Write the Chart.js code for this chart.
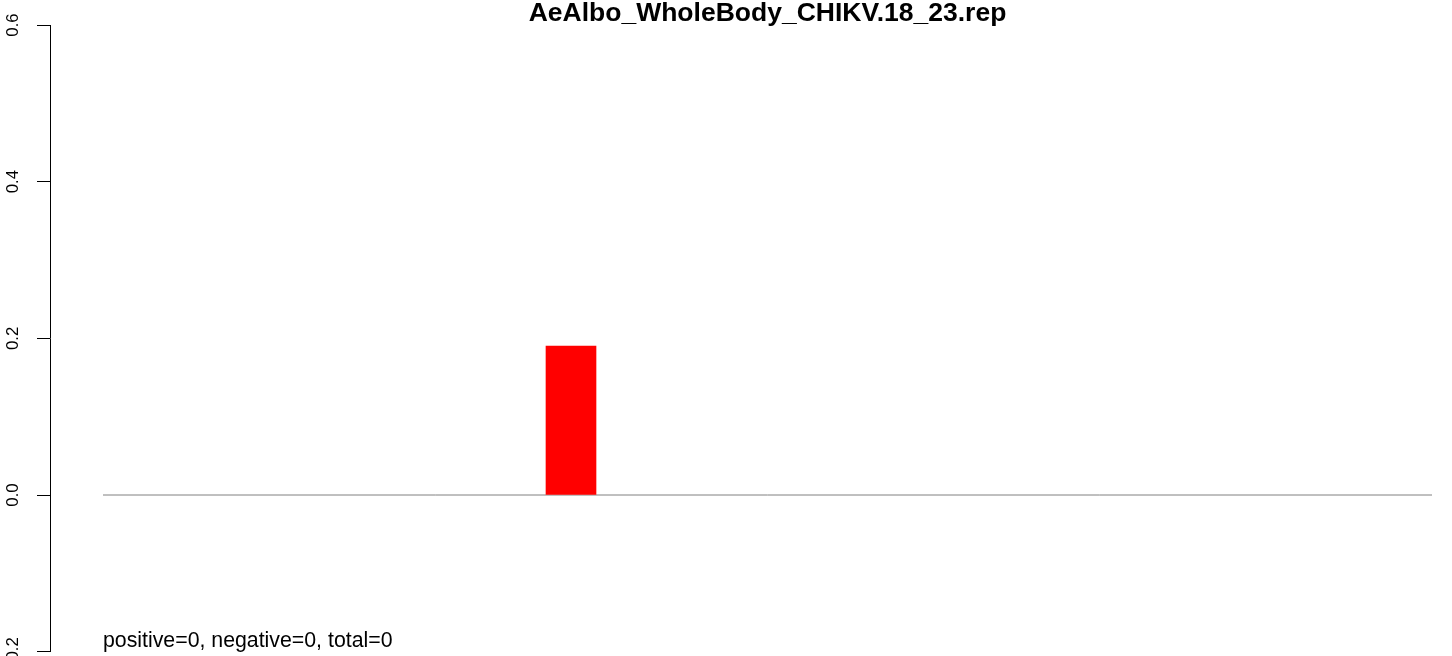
<!DOCTYPE html>
<html>
<head>
<meta charset="utf-8">
<script src="https://cdn.jsdelivr.net/npm/chart.js@4.4.1/dist/chart.umd.min.js"></script>
<style>
  html, body { margin: 0; padding: 0; background: #ffffff; overflow: hidden; }
  #wrap { width: 1452px; height: 656px; }
</style>
</head>
<body>
<div id="wrap"><canvas id="c" width="1452" height="656"></canvas></div>
<script>
// ---- data ----
const chartTitle = "AeAlbo_WholeBody_CHIKV.18_23.rep";
const noteText = "positive=0, negative=0, total=0";
const xDomain = [0, 28];             // x extent of the plot region
const baselineX = [1.06, 27.64];     // extent of the zero reference line
const barPositions = [10.42];        // bar centres
const barValues = [0.19];            // bar heights
const yTicks = [-0.2, 0, 0.2, 0.4, 0.6];

const FONT = '"Liberation Sans", Arial, Helvetica, sans-serif';

const barData = barPositions.map((x, i) => ({ x: x, y: barValues[i] }));
const lineData = baselineX.map(x => ({ x: x, y: 0 }));

const textPlugin = {
  id: 'rtext',
  afterDraw(chart) {
    const ctx = chart.ctx;
    const xs = chart.scales.x;
    const x0 = xs.getPixelForValue(baselineX[0]);
    const x1 = xs.getPixelForValue(baselineX[1]);
    ctx.save();
    ctx.fillStyle = '#000000';
    ctx.textBaseline = 'alphabetic';
    ctx.font = 'bold 26.5px ' + FONT;
    ctx.textAlign = 'center';
    ctx.fillText(chartTitle, (x0 + x1) / 2, 21);
    ctx.font = '21.3px ' + FONT;
    ctx.textAlign = 'left';
    ctx.fillText(noteText, x0, 647);
    ctx.restore();
  }
};

new Chart(document.getElementById('c'), {
  type: 'bar',
  data: {
    datasets: [
      {
        type: 'bar',
        data: barData,
        backgroundColor: '#ff0000',
        borderWidth: 0,
        barThickness: 50,
        order: 0
      },
      {
        type: 'line',
        data: lineData,
        borderColor: '#808080',
        borderWidth: 1,
        pointRadius: 0,
        fill: false,
        order: 1
      }
    ]
  },
  options: {
    responsive: false,
    animation: false,
    devicePixelRatio: 1,
    layout: { padding: { top: 25, bottom: 4.33, left: 0, right: 2 } },
    plugins: {
      legend: { display: false },
      tooltip: { enabled: false },
      title: { display: false }
    },
    scales: {
      x: {
        type: 'linear',
        min: xDomain[0],
        max: xDomain[1],
        offset: false,
        display: false
      },
      y: {
        type: 'linear',
        min: yTicks[0],
        max: yTicks[yTicks.length - 1],
        afterBuildTicks(scale) { scale.ticks = yTicks.map(v => ({ value: v })); },
        afterFit(scale) {
          scale.width = 50;
          scale.paddingTop = 0;
          scale.paddingBottom = 0;
        },
        grid: {
          display: true,
          drawOnChartArea: false,
          drawTicks: true,
          tickLength: 13,
          color: '#000000',
          lineWidth: 1
        },
        border: { display: true, color: '#000000', width: 1 },
        ticks: {
          color: '#000000',
          font: { family: FONT, size: 16.8 },
          minRotation: 90,
          maxRotation: 90,
          crossAlign: 'center',
          padding: 9.5,
          callback: v => Number(v).toFixed(1)
        }
      }
    }
  },
  plugins: [textPlugin]
});
</script>
</body>
</html>
